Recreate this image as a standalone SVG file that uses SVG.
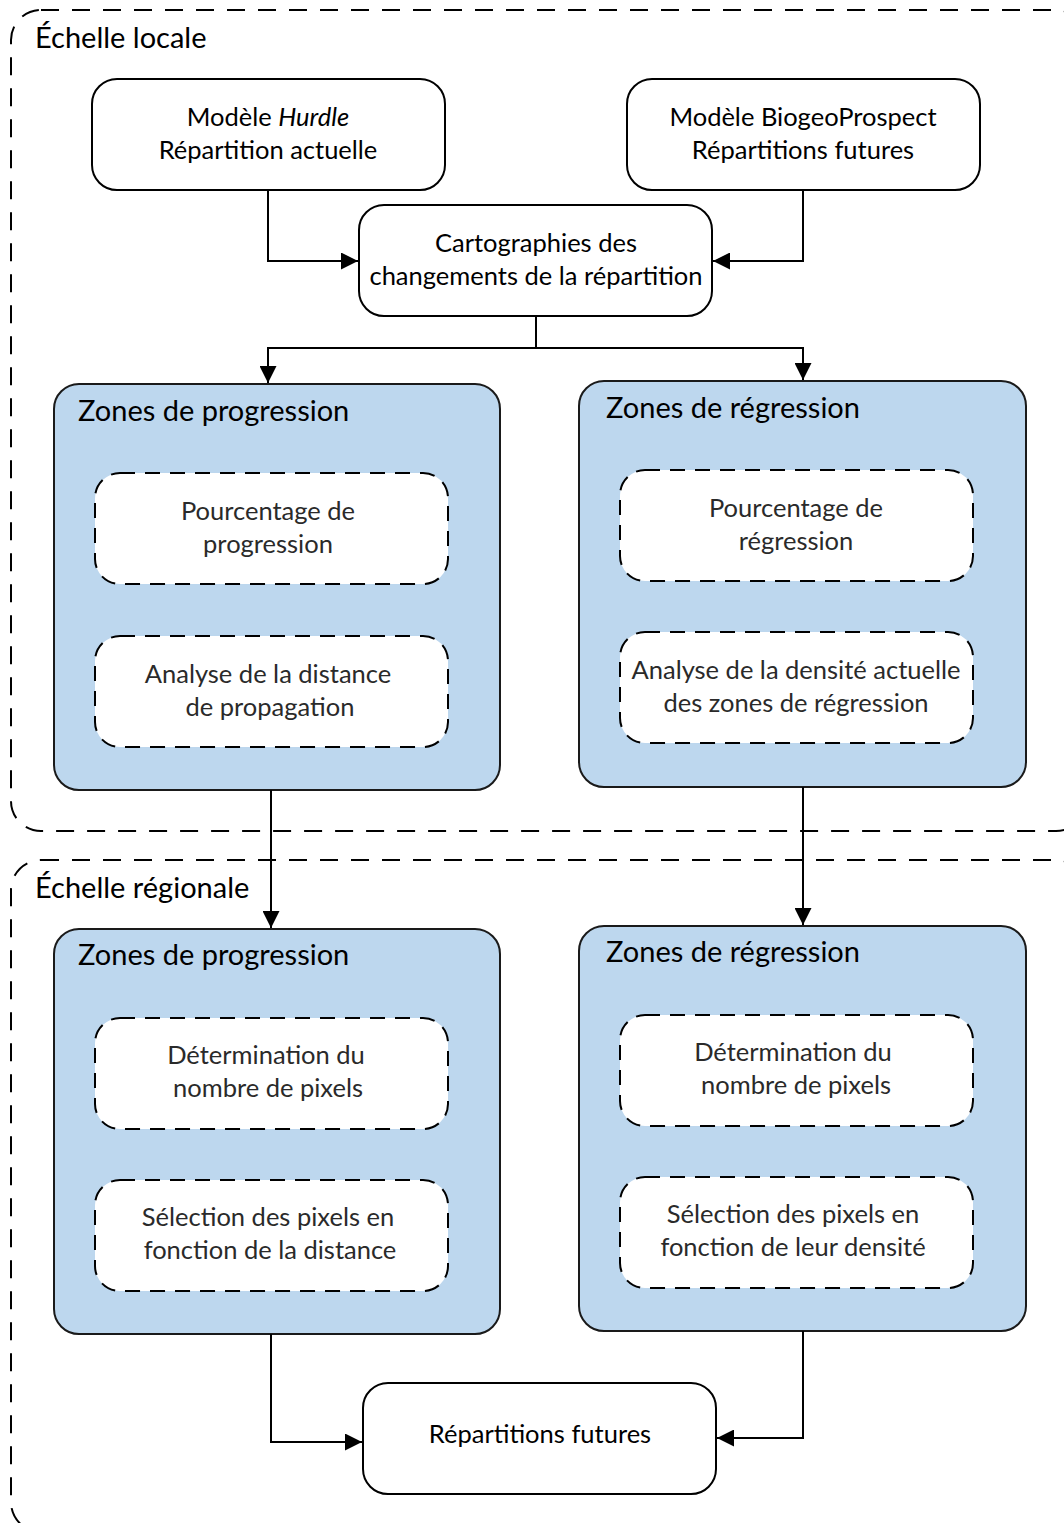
<svg xmlns="http://www.w3.org/2000/svg" width="1064" height="1523" viewBox="0 0 1064 1523">
<defs>
<marker id="arr" viewBox="0 0 10 10" refX="10" refY="5" markerWidth="17" markerHeight="17" markerUnits="userSpaceOnUse" orient="auto">
<path d="M0,0 L10,5 L0,10 Z" fill="#000"/>
</marker>
<style>
.scale{fill:none;stroke:#000;stroke-width:2;stroke-dasharray:18 13}
.box{fill:#fff;stroke:#000;stroke-width:2}
.zone{fill:#bdd7ee;stroke:#1a1a1a;stroke-width:2}
.inner{fill:#fff;stroke:#000;stroke-width:2;stroke-dasharray:15 10}
.t{font-family:Lato,"Liberation Sans",sans-serif;font-size:25.5px;fill:#000;text-anchor:middle}
.ti{font-family:Lato,"Liberation Sans",sans-serif;font-size:25.5px;font-weight:400;fill:#2a2a2a;text-anchor:middle}
.h{font-family:Lato,"Liberation Sans",sans-serif;font-size:29px;fill:#000}
.c{fill:none;stroke:#000;stroke-width:2;marker-end:url(#arr)}
</style>
</defs>
<rect width="1064" height="1523" fill="#fff"/>

<g id="scale-locale">
<rect class="scale" x="11" y="10" width="1075" height="821" rx="30"/>
<text class="h" x="35" y="48">Échelle locale</text>
</g>
<g id="scale-regionale">
<rect class="scale" x="11" y="860" width="1075" height="672" rx="30"/>
<text class="h" x="35" y="898">Échelle régionale</text>
</g>

<g id="hurdle">
<rect class="box" x="92" y="79" width="353" height="111" rx="25"/>
<text class="t" x="268" y="126">Modèle <tspan font-style="italic">Hurdle</tspan></text>
<text class="t" x="268" y="159">Répartition actuelle</text>
</g>
<g id="biogeo">
<rect class="box" x="627" y="79" width="353" height="111" rx="25"/>
<text class="t" x="803" y="126">Modèle BiogeoProspect</text>
<text class="t" x="803" y="159">Répartitions futures</text>
</g>
<g id="carto">
<rect class="box" x="359" y="205" width="353" height="111" rx="25"/>
<text class="t" x="536" y="252">Cartographies des</text>
<text class="t" x="536" y="285">changements de la répartition</text>
</g>

<g id="local-progression">
<rect class="zone" x="54" y="384" width="446" height="406" rx="25"/>
<text class="h" x="78" y="421">Zones de progression</text>
<rect class="inner" x="95" y="473" width="353" height="111" rx="25"/>
<text class="ti" x="268" y="520">Pourcentage de</text>
<text class="ti" x="268" y="553">progression</text>
<rect class="inner" x="95" y="636" width="353" height="111" rx="25"/>
<text class="ti" x="268" y="683">Analyse de la distance</text>
<text class="ti" x="270" y="716">de propagation</text>
</g>
<g id="local-regression">
<rect class="zone" x="579" y="381" width="447" height="406" rx="25"/>
<text class="h" x="606" y="418">Zones de régression</text>
<rect class="inner" x="620" y="470" width="353" height="111" rx="25"/>
<text class="ti" x="796" y="517">Pourcentage de</text>
<text class="ti" x="796" y="550">régression</text>
<rect class="inner" x="620" y="632" width="353" height="111" rx="25"/>
<text class="ti" x="796" y="679">Analyse de la densité actuelle</text>
<text class="ti" x="796" y="712">des zones de régression</text>
</g>

<g id="regional-progression">
<rect class="zone" x="54" y="929" width="446" height="405" rx="25"/>
<text class="h" x="78" y="965">Zones de progression</text>
<rect class="inner" x="95" y="1018" width="353" height="111" rx="25"/>
<text class="ti" x="266" y="1064">Détermination du</text>
<text class="ti" x="268" y="1097">nombre de pixels</text>
<rect class="inner" x="95" y="1180" width="353" height="111" rx="25"/>
<text class="ti" x="268" y="1226">Sélection des pixels en</text>
<text class="ti" x="270" y="1259">fonction de la distance</text>
</g>
<g id="regional-regression">
<rect class="zone" x="579" y="926" width="447" height="405" rx="25"/>
<text class="h" x="606" y="962">Zones de régression</text>
<rect class="inner" x="620" y="1015" width="353" height="111" rx="25"/>
<text class="ti" x="793" y="1061">Détermination du</text>
<text class="ti" x="796" y="1094">nombre de pixels</text>
<rect class="inner" x="620" y="1177" width="353" height="111" rx="25"/>
<text class="ti" x="793" y="1223">Sélection des pixels en</text>
<text class="ti" x="793" y="1256">fonction de leur densité</text>
</g>

<g id="futures">
<rect class="box" x="363" y="1383" width="353" height="111" rx="25"/>
<text class="t" x="540" y="1443">Répartitions futures</text>
</g>

<g id="connectors">
<path class="c" d="M268,190 V261 H358"/>
<path class="c" d="M803,190 V261 H713"/>
<path class="c" d="M536,316 V348 H268 V383"/>
<path class="c" d="M536,348 H803 V380"/>
<path class="c" d="M271,790 V928"/>
<path class="c" d="M803,787 V925"/>
<path class="c" d="M271,1334 V1442 H362"/>
<path class="c" d="M803,1331 V1438 H717"/>
</g>
</svg>
